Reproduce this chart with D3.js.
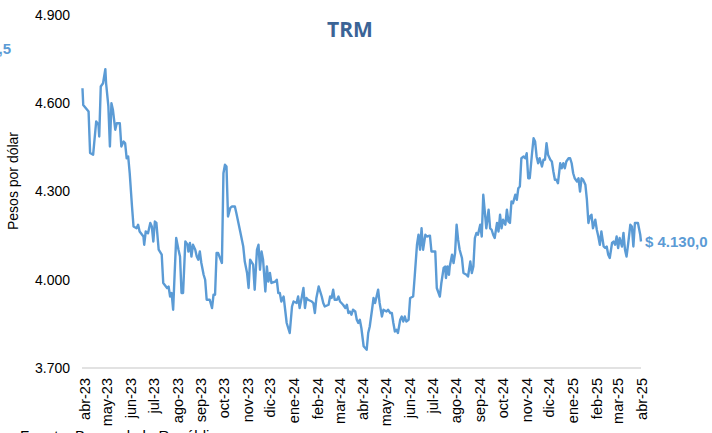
<!DOCTYPE html>
<html><head><meta charset="utf-8">
<script src="https://cdn.jsdelivr.net/npm/d3@7/dist/d3.min.js"></script>
<style>body{margin:0;background:#fff;}svg{display:block;}</style>
</head><body>
<svg id="c" width="712" height="433"></svg>
<script>
// Days since 2023-04-01 and TRM values (COP per USD)
const dayOffsets = [-2,-1,6,8,12,16,19,20,22,25,28,29,32,34,36,38,41,43,47,49,52,54,56,58,60,63,65,69,71,73,78,79,81,84,87,89,91,93,95,98,102,104,109,111,113,115,117,119,121,124,126,128,130,133,136,137,139,141,143,146,148,150,152,154,157,159,161,165,168,170,172,174,176,181,183,185,187,189,192,194,198,200,205,209,211,214,216,218,222,224,227,229,231,233,235,238,240,242,244,246,251,253,255,257,259,262,264,266,270,273,275,279,281,283,286,288,290,292,294,299,301,303,305,308,310,312,314,316,321,323,325,327,329,332,334,336,340,343,345,347,349,351,353,356,358,360,362,364,367,371,373,375,378,380,382,384,386,388,391,393,397,399,402,404,406,408,410,412,415,417,419,421,423,426,428,432,434,437,439,441,443,445,448,450,454,456,461,463,467,469,472,474,475,477,479,480,483,485,487,489,491,493,496,498,502,504,507,509,511,513,515,517,520,522,524,526,528,531,533,535,537,539,542,544,546,548,550,553,555,557,559,561,563,566,568,570,572,574,577,579,581,583,585,588,590,592,594,596,598,601,603,605,607,609,612,614,616,618,620,622,625,627,629,631,633,636,638,640,642,644,647,649,651,653,655,658,660,662,664,666,668,671,673,675,677,679,682,684,686,688,690,693,695,697,699,701,703,706,708,710,712,714,717,719,721,723,725,727,730,731];
const trmValues = [4651,4594,4572,4431,4425,4538,4526,4487,4657,4668,4716,4668,4589,4453,4600,4577,4510,4532,4532,4453,4470,4464,4413,4419,4362,4249,4181,4175,4187,4164,4147,4119,4164,4158,4193,4181,4130,4198,4193,4102,4085,3989,3972,3977,3943,3955,3898,4023,4142,4102,4079,3955,3955,4130,4119,4096,4125,4079,4119,4102,4079,4068,4096,4057,4017,4000,3932,3932,3904,3949,3949,4091,4091,4057,4362,4391,4385,4215,4244,4249,4249,4226,4164,4113,4062,4023,3972,4068,4051,3966,4102,4119,4034,4096,4068,3960,4045,3994,4023,3989,3994,4000,3955,3955,3926,3943,3898,3853,3819,3909,3926,3921,3943,3904,3943,3972,3904,3938,3932,3926,3921,3887,3938,3977,3960,3943,3921,3909,3915,3943,3938,3966,3932,3932,3943,3926,3915,3904,3915,3887,3892,3881,3898,3892,3864,3853,3864,3836,3774,3762,3819,3841,3898,3938,3921,3943,3966,3921,3875,3898,3892,3898,3887,3887,3853,3824,3830,3819,3864,3875,3858,3875,3858,3864,3938,3943,4011,4119,4153,4102,4175,4102,4153,4147,4150,4096,4096,3972,3943,3989,4040,4045,4006,4045,4017,4045,4085,4057,4091,4187,4136,4102,4074,4023,4017,4011,4062,4023,4045,4142,4159,4153,4187,4147,4289,4232,4175,4238,4175,4170,4153,4142,4193,4164,4221,4175,4204,4187,4238,4198,4193,4266,4260,4289,4272,4311,4317,4413,4419,4413,4430,4345,4345,4430,4481,4470,4419,4396,4413,4385,4408,4408,4464,4425,4408,4402,4368,4340,4340,4328,4396,4379,4396,4379,4402,4413,4413,4396,4362,4345,4334,4345,4300,4345,4340,4323,4272,4193,4215,4221,4175,4204,4170,4147,4119,4164,4113,4108,4113,4085,4074,4125,4130,4119,4147,4108,4142,4113,4159,4102,4079,4119,4187,4181,4113,4193,4193,4193,4153,4130];
const monthLabels = ["abr-23","may-23","jun-23","jul-23","ago-23","sep-23","oct-23","nov-23","dic-23","ene-24","feb-24","mar-24","abr-24","may-24","jun-24","jul-24","ago-24","sep-24","oct-24","nov-24","dic-24","ene-25","feb-25","mar-25","abr-25"];
const yTicks = [3700,4000,4300,4600,4900];
const titleText = "TRM";
const yAxisTitle = "Pesos por dólar";
const lastLabel = "$ 4.130,0";
const firstLabel = "$ 4.646,5";
const sourceText = "Fuente: Banco de la República";

const startDate = new Date(2023,3,1);
const data = dayOffsets.map((d,i)=>({date:d3.timeDay.offset(startDate,d), v:trmValues[i]}));

const svg = d3.select("#c");
const x = d3.scaleTime().domain([new Date(2023,3,1), new Date(2025,3,1)]).range([84,641]);
const y = d3.scaleLinear().domain([3700,4900]).range([368,15]);

const fontT = "Liberation Sans, Arial, sans-serif";

// baseline
svg.append("line").attr("x1",82).attr("x2",641).attr("y1",y(3700)).attr("y2",y(3700))
  .attr("stroke","#d9d9d9").attr("stroke-width",1.3);

// y axis
const yAxis = d3.axisLeft(y).tickValues(yTicks).tickSize(0).tickPadding(0)
  .tickFormat(d=>d3.format(",")(d).replace(/,/g,"."));
const gy = svg.append("g").attr("transform","translate(70,0)").call(yAxis);
gy.select(".domain").remove();
gy.selectAll("text").attr("font-family",fontT).attr("font-size",14).attr("fill","#000");

// x axis
const months = d3.timeMonth.range(new Date(2023,3,1), new Date(2025,3,2));
const xAxis = d3.axisBottom(x).tickValues(months).tickSize(0)
  .tickFormat((d,i)=>monthLabels[i]);
const gx = svg.append("g").attr("transform","translate(0,"+y(3700)+")").call(xAxis);
gx.select(".domain").remove();
gx.selectAll("text").attr("font-family",fontT).attr("font-size",14.5).attr("fill","#000")
  .attr("text-anchor","end").attr("dy","0.35em").attr("dx",0)
  .attr("transform","translate(0,10) rotate(-90)").attr("x",0).attr("y",0);

// line
const line = d3.line().x(d=>x(d.date)).y(d=>y(d.v)).curve(d3.curveLinear);
svg.append("path").datum(data).attr("d",line).attr("fill","none")
  .attr("stroke","#5b9bd5").attr("stroke-width",2.4).attr("stroke-linejoin","round");

// title
svg.append("text").attr("x",350).attr("y",37).attr("text-anchor","middle")
  .attr("font-family","Open Sans, sans-serif").attr("font-weight","bold").attr("font-size",21)
  .attr("fill","#3b6496").text(titleText);

// y axis title
svg.append("text").attr("transform","translate(18,181) rotate(-90)").attr("text-anchor","middle")
  .attr("font-family",fontT).attr("font-size",14).attr("fill","#000").text(yAxisTitle);

// end label
const last = data[data.length-1];
svg.append("text").attr("x",x(last.date)+4).attr("y",y(last.v)+5)
  .attr("font-family",fontT).attr("font-weight","bold").attr("font-size",15)
  .attr("fill","#5b9bd5").text(lastLabel);

// cut-off first label (cropped at left edge as in the reference)
svg.append("text").attr("x",11).attr("y",54).attr("text-anchor","end")
  .attr("font-family",fontT).attr("font-weight","bold").attr("font-size",15)
  .attr("fill","#5b9bd5").text(firstLabel);

// source (cropped at the bottom edge as in the reference)
svg.append("text").attr("x",20).attr("y",441)
  .attr("font-family",fontT).attr("font-size",15).attr("fill","#000").text(sourceText);
</script>
</body></html>
